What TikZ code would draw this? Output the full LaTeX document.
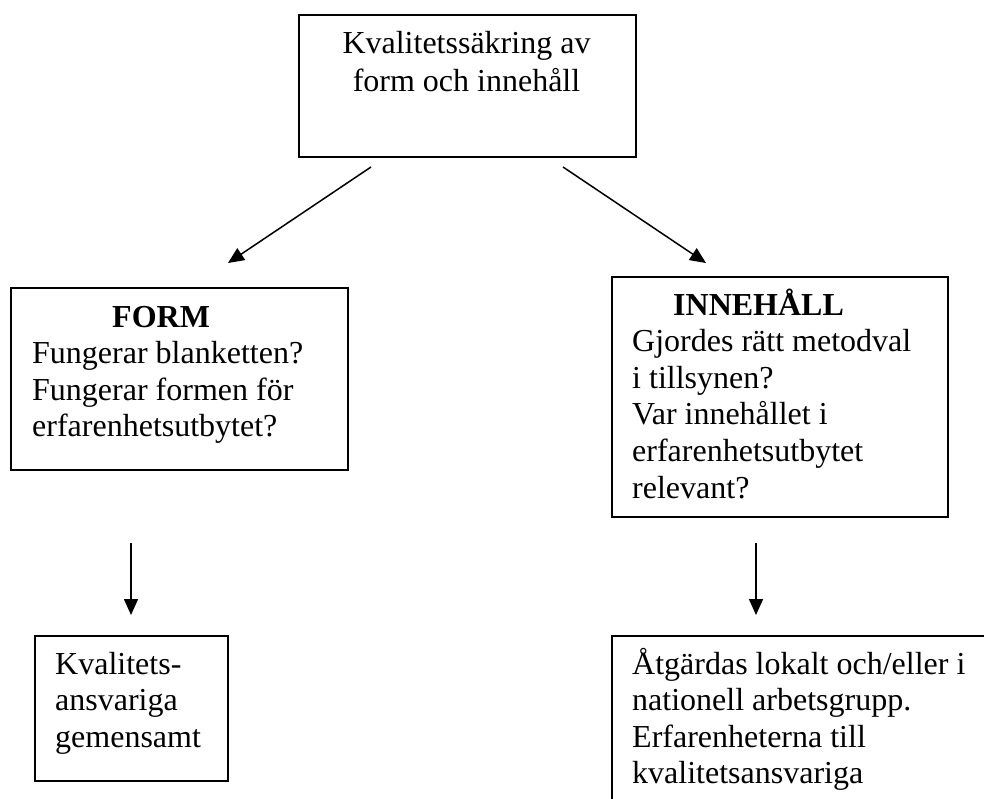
\documentclass[tikz,border=0pt]{standalone}
\usepackage{fontspec}
\setmainfont{Liberation Serif}
\usetikzlibrary{arrows.meta}
\begin{document}
\begin{tikzpicture}[x=1pt,y=-1pt,
  box/.style={draw, line width=1.8pt, rectangle, inner sep=0pt, anchor=north west},
  txt/.style={anchor=base west, inner sep=0pt, font=\fontsize{32}{36.6}\selectfont},
  ctxt/.style={txt, anchor=base},
  head/.style={txt, font=\fontsize{32}{36.6}\selectfont\bfseries},
  arr/.style={line width=1.5pt, -{Triangle[length=16pt,width=14pt]}}]
\useasboundingbox (0,0) rectangle (984,798);

% top box
\node[box, minimum width=337pt, minimum height=142pt] (top) at (298,14) {};
\node[ctxt] (top1) at (466.5,53) {Kvalitetssäkring av};
\node[ctxt] (top2) at (466.5,91.5) {form och innehåll};

% FORM box
\node[box, minimum width=337pt, minimum height=182pt] (form) at (10,287) {};
\node[head] (formH) at (112,327) {FORM};
\foreach \t [count=\i] in {Fungerar blanketten?,Fungerar formen för,erfarenhetsutbytet?}
  \node[txt] (form\i) at (32,327+36.6*\i) {\t};

% INNEHÅLL box
\node[box, minimum width=336pt, minimum height=240pt] (inn) at (611,276) {};
\node[head] (innH) at (673,315) {INNEHÅLL};
\foreach \t [count=\i] in {Gjordes rätt metodval,i tillsynen?,Var innehållet i,erfarenhetsutbytet,relevant?}
  \node[txt] (inn\i) at (632,315+36.6*\i) {\t};

% bottom left box
\node[box, minimum width=193pt, minimum height=145pt] (kva) at (34,635) {};
\foreach \t [count=\i] in {Kvalitets-,ansvariga,gemensamt}
  \node[txt] (kva\i) at (55,637.4+36.6*\i) {\t};

% bottom right box, running past the page edge
\begin{scope}
  \clip (0,0) rectangle (984,798);
  \node[box, minimum width=420pt, minimum height=200pt] (atg) at (611,635) {};
\end{scope}
\foreach \t [count=\i] in {Åtgärdas lokalt och/eller i,nationell arbetsgrupp.,Erfarenheterna till,kvalitetsansvariga}
  \node[txt] (atg\i) at (632,637.4+36.6*\i) {\t};

% connectors
\coordinate (d1s) at (371,167);
\coordinate (d1e) at (228,263);
\coordinate (d2s) at (563,167);
\coordinate (d2e) at (706,263);
\coordinate (v1s) at (131,543);
\coordinate (v1e) at (131,615);
\coordinate (v2s) at (756,543);
\coordinate (v2e) at (756,615);
\draw[arr] (d1s) -- (d1e);
\draw[arr] (d2s) -- (d2e);
\draw[arr] (v1s) -- (v1e);
\draw[arr] (v2s) -- (v2e);
\end{tikzpicture}
\end{document}
